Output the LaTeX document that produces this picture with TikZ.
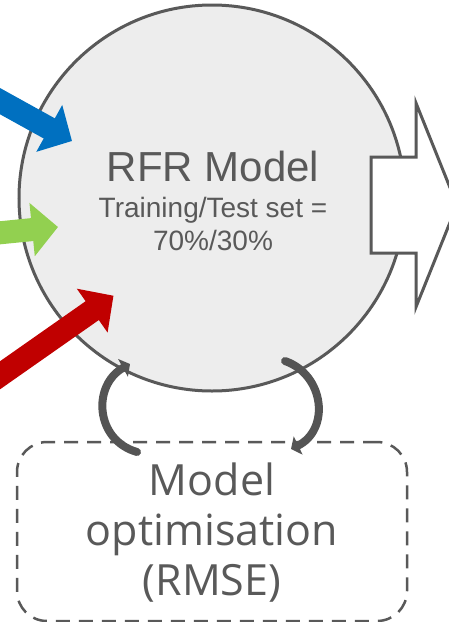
\documentclass[tikz,border=0pt]{standalone}
\usepackage{fontspec}
\setmainfont{Liberation Sans}
\newfontfamily\optfont{Open Sans}
\usetikzlibrary{arrows.meta}
\definecolor{linegray}{HTML}{595959}
\definecolor{loopgray}{HTML}{545454}
\definecolor{fillgray}{HTML}{EDEDED}
\definecolor{inblue}{HTML}{0070C0}
\definecolor{ingreen}{HTML}{92D050}
\definecolor{inred}{HTML}{C00000}
\tikzset{
  inarrow/.style={line width=23pt, -{Triangle[length=26pt,width=52pt]}},
  looparrow/.style={draw=loopgray, line width=8pt, line cap=round, -{Triangle[length=8pt,width=20pt]}},
  rfrtext/.style={text=linegray, anchor=base, inner sep=0pt},
  opttext/.style={text=linegray, anchor=base, inner sep=0pt, font=\optfont\fontsize{43}{43}\selectfont}
}
\begin{document}
\begin{tikzpicture}[x=1pt,y=-1pt]
\useasboundingbox (0,0) rectangle (448,622);
% model circle
\node[circle, draw=linegray, fill=fillgray, line width=3pt, minimum size=386pt, inner sep=0pt] (rfr) at (212,198){};
\node[rfrtext, font=\fontsize{42}{42}\selectfont] (rfrtitle) at (213,181){RFR Model};
\node[rfrtext, font=\fontsize{28}{28}\selectfont] (split1) at (213,217){Training/Test set =};
\node[rfrtext, font=\fontsize{28}{28}\selectfont] (split2) at (213,250){70\%/30\%};
% inputs
\coordinate (blueStart) at (-12,94.5);
\coordinate (blueTip) at (72,141);
\coordinate (greenStart) at (-20,234.8);
\coordinate (greenTip) at (58,227);
\coordinate (redStart) at (-15,385.8);
\coordinate (redTip) at (113.5,295.7);
\draw[inarrow, inblue](blueStart) -- (blueTip);
\draw[inarrow, ingreen](greenStart) -- (greenTip);
\draw[inarrow, inred](redStart) -- (redTip);
% output
\draw[draw=linegray, fill=white, line width=3pt, line join=miter]
  (371,157) -- (416,157) -- (416,103) -- (457,205) -- (416,307) -- (416,253) -- (371,253) -- cycle;
% optimisation box
\node[draw=linegray, dash pattern=on 14pt off 9pt, line width=2.5pt, rounded corners=30pt,
  minimum width=390pt, minimum height=179pt, inner sep=0pt] (opt) at (212,531.5){};
\node[opttext] (opt1) at (212,495){Model};
\node[opttext] (opt2) at (212,545){optimisation};
\node[opttext] (opt3) at (212,595){(RMSE)};
% loop
\coordinate (upStart) at (137,452);
\coordinate (upEnd) at (130,364);
\coordinate (downStart) at (285,361);
\coordinate (downEnd) at (291,449);
\draw[looparrow](upStart) .. controls (95,440) and (92,385) .. (upEnd);
\draw[looparrow](downStart) .. controls (325,375) and (330,430) .. (downEnd);
\end{tikzpicture}
\end{document}
